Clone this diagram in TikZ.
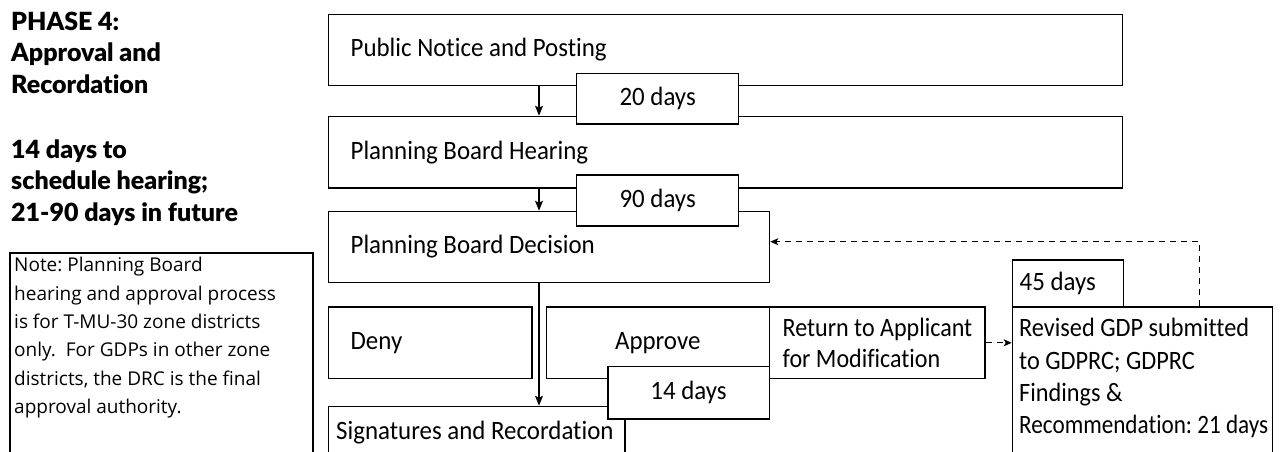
\documentclass[tikz,border=0pt]{standalone}
\usepackage{fontspec}
\setmainfont{Open Sans}
\newfontfamily\condfont{Carlito}[Ligatures=NoCommon, FakeStretch=0.94]
\newfontfamily\blackfont{Lato Black}[Ligatures=NoCommon]
\usetikzlibrary{arrows.meta}
\newcommand\mainf{\fontsize{26.5}{31.7}\selectfont\condfont}
\newcommand\notef{\fontsize{19}{28.3}\selectfont}
\newcommand\headf{\fontsize{25}{31.7}\selectfont\blackfont}
\newcommand\sqz[2]{\scalebox{#1}[1]{#2}}
\begin{document}
\frenchspacing
\begin{tikzpicture}[x=1pt,y=-1pt,
  every node/.style={execute at begin node={\spaceskip=0pt\xspaceskip=0pt}},
  box/.style={draw, line width=1.3pt, fill=white, anchor=north west, inner ysep=0pt, font=\mainf},
  lbox/.style={box, align=left},
  cbox/.style={box, inner xsep=0pt, align=center},
  txt/.style={anchor=north west, inner sep=0pt, align=left},
  arr/.style={line width=1.3pt, -{Stealth[length=10pt,width=8pt,inset=2pt]}},
  darr/.style={line width=1.3pt, dash pattern=on 6pt off 5pt, -{Stealth[length=8pt,width=7pt,inset=2pt]}}]
\useasboundingbox (0,0) rectangle (1288,451);
\clip (0,0) rectangle (1288,451);

% heading
\node[txt, font=\headf] (hd1) at (11,8) {\rule{0pt}{22pt}PHASE 4:\\Approval and\\Recordation};
\node[txt, font=\headf] (hd2) at (11,136) {\rule{0pt}{22pt}14 days to\\schedule hearing;\\21-90 days in future};

% note
\node[draw, line width=1.3pt, anchor=north west, minimum width=303pt, minimum height=250pt, inner sep=0pt] (nt) at (9.3,252.3) {};
\node[txt, font=\notef] (ntt) at (14,253.7) {\rule{0pt}{18pt}Note: Planning Board\\hearing and approval process\\is for T-MU-30 zone districts\\only.\ \ For GDPs in other zone\\districts, the DRC is the final\\approval authority.};

% main column
\node[lbox, text width=750pt, inner xsep=22pt, minimum height=71.5pt] (pn) at (328,13.5) {Public Notice and Posting};
\node[lbox, text width=750pt, inner xsep=22pt, minimum height=71.6pt] (ph) at (328,115.7) {Planning Board Hearing};
\node[lbox, text width=397pt, inner xsep=22pt, minimum height=71pt] (pd) at (328,210.7) {Planning Board Decision};
\node[cbox, minimum width=162pt, minimum height=50.6pt] (d20) at (576,72.7) {20 days};
\node[cbox, minimum width=162pt, minimum height=51pt] (d90) at (576,174.3) {90 days};

\node[lbox, text width=159.3pt, inner xsep=22pt, minimum height=71.7pt] (dn) at (328,306.3) {Deny};
\node[cbox, minimum width=222.8pt, minimum height=71.7pt] (ap) at (545.7,306.3) {Approve};
\node[lbox, text width=188.8pt, inner xsep=13.5pt, minimum height=71.7pt] (rt) at (768.5,306.3) {\sqz{0.965}{Return to Applicant}\\\sqz{0.965}{for Modification}};
\node[box, minimum width=296.3pt, minimum height=100pt, inner sep=0pt] (sg) at (328,405.7) {};
\node[txt, font=\mainf] (sgt) at (336,407.7) {\rule{0pt}{31.7pt}Signatures and Recordation};
\node[cbox, minimum width=161.2pt, minimum height=52.3pt] (d14) at (607.3,366) {14 days};

\node[box, minimum width=260pt, minimum height=200pt, inner sep=0pt] (rv) at (1011.7,306.3) {};
\node[txt, font={\fontsize{26.5}{32.3}\selectfont\condfont}] (rvt) at (1019,306.3) {\rule{0pt}{30.4pt}\sqz{0.975}{Revised GDP submitted}\\\sqz{0.975}{to GDPRC; GDPRC}\\\sqz{0.975}{Findings \&}\\\sqz{0.93}{Recommendation: 21 days}};
\node[lbox, text width=96.4pt, inner xsep=7.3pt, minimum height=46.7pt] (d45) at (1011.7,259.3) {45 days};

% connectors
\coordinate (ax) at (539,0);
\draw[arr] (pn.south -| ax) -- (ph.north -| ax);
\draw[arr] (ph.south -| ax) -- (pd.north -| ax);
\draw[arr] (pd.south -| ax) -- (sg.north -| ax);
\draw[darr] (rt.east) -- (rv.west |- rt.east);
\coordinate (fb) at (1199.3,241.7);
\draw[darr] (rv.north -| fb) -- (fb) -- (pd.east |- fb);
\end{tikzpicture}
\end{document}
